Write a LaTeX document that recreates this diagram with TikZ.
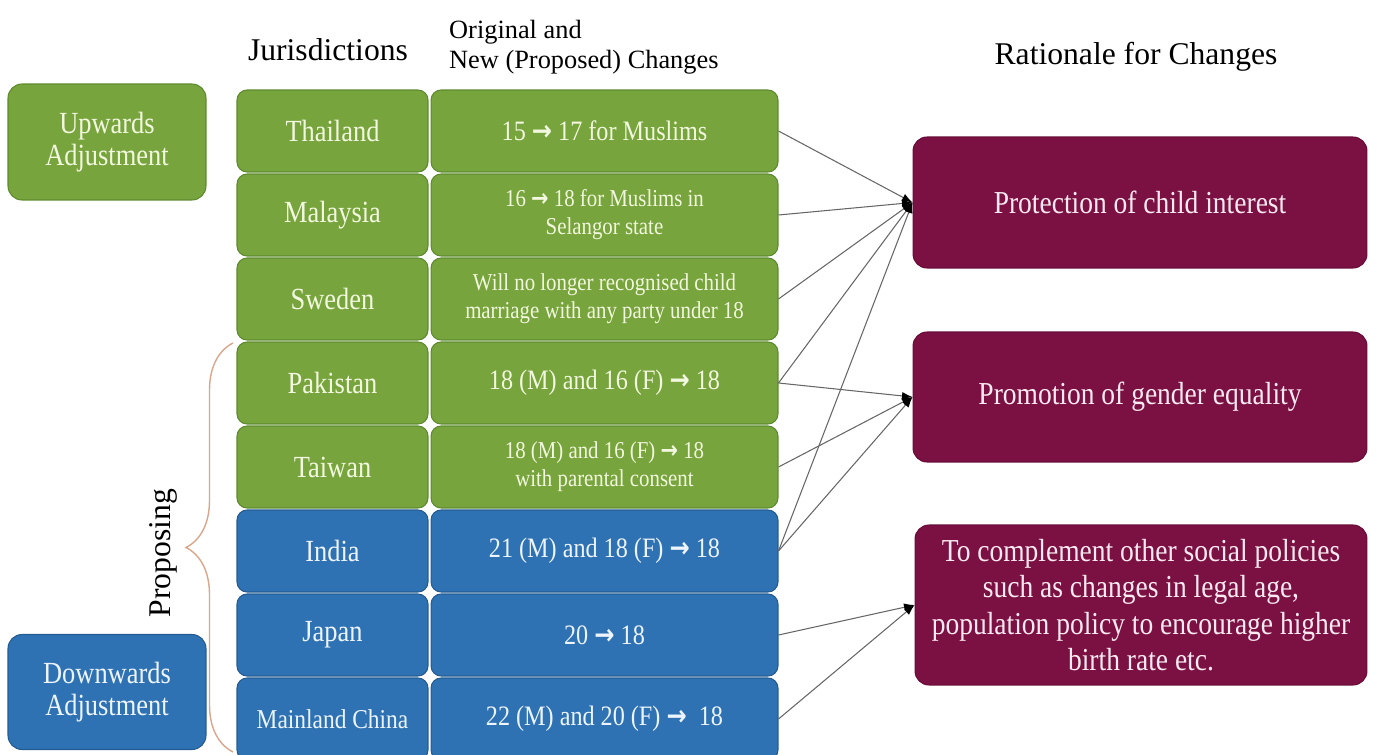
\documentclass[tikz,border=0pt]{standalone}
\usepackage{fontspec}
\setmainfont{Liberation Serif}
\newfontfamily\boxfont[FakeStretch=0.86]{Liberation Serif}
\newfontfamily\arrowfont[FakeStretch=0.86]{DejaVu Sans}
\usetikzlibrary{positioning, arrows.meta, calc, decorations.pathreplacing}
\definecolor{leaf}{HTML}{77A43C}
\definecolor{leafline}{HTML}{5E8A2E}
\definecolor{leaftext}{HTML}{F2F7DF}
\definecolor{sea}{HTML}{2E72B4}
\definecolor{sealine}{HTML}{245B90}
\definecolor{seatext}{HTML}{EEF4FB}
\definecolor{wine}{HTML}{7B1042}
\definecolor{wineline}{HTML}{6A0C38}
\definecolor{winetext}{HTML}{FBEAF1}
\definecolor{bracecol}{HTML}{D9A68C}
\newcommand{\ito}{{\arrowfont\bfseries →}}
\newcommand{\jsmall}{\fontsize{15.5}{18}\selectfont}

\begin{document}
\begin{tikzpicture}[x=0.02cm, y=-0.02cm,
 cell/.style={draw, rounded corners=0.2cm, line width=0.6pt, align=center,
 inner sep=2pt, minimum height=1.64cm, font=\boxfont\fontsize{17.5}{18.5}\selectfont},
 upcell/.style={fill=leaf, draw=leafline, text=leaftext},
 downcell/.style={fill=sea, draw=sealine, text=seatext},
 chgtext/.style={font=\boxfont\fontsize{16}{19}\selectfont},
 chgsmall/.style={font=\boxfont\fontsize{13.8}{16}\selectfont},
 head/.style={font=\fontsize{18}{21}\selectfont, text=black},
 reason/.style={draw=wineline, fill=wine, text=winetext, rounded corners=0.28cm,
 align=center, line width=0.6pt, font=\boxfont\fontsize{18.2}{20.8}\selectfont},
 link/.style={-{Latex[length=6pt, width=4.5pt, color=black]}, draw=black!60, line width=0.6pt}]
 \useasboundingbox (0,0) rectangle (1376,754);
 \clip (0,0) rectangle (1376,754);
 \node[head] (hjur) at (328,50) {Jurisdictions};
 \node[head, font=\fontsize{15}{17}\selectfont, align=left, anchor=west] (hchg) at (443,47)
 {Original and\\New (Proposed) Changes};
 \node[head] (hrat) at (1136,57) {Rationale for Changes};
 \foreach \jname/\change/\kind/\size [count=\i] in {
 Thailand/{15 \ito\ 17 for Muslims}/upcell/chgtext,
 Malaysia/{16 \ito\ 18 for Muslims in\\Selangor state}/upcell/chgsmall,
 Sweden/{Will no longer recognised child\\marriage with any party under 18}/upcell/chgsmall,
 Pakistan/{18 (M) and 16 (F) \ito\ 18}/upcell/chgtext,
 Taiwan/{18 (M) and 16 (F) \ito\ 18\\with parental consent}/upcell/chgsmall,
 India/{21 (M) and 18 (F) \ito\ 18}/downcell/chgtext,
 Japan/{20 \ito\ 18}/downcell/chgtext,
 {\jsmall Mainland China}/{22 (M) and 20 (F) \ito\ \ 18}/downcell/chgtext} {
 \node[cell, \kind, minimum width=3.82cm] (j\i) at (332.5,{131+84*(\i-1)}) {\jname};
 \node[cell, \kind, \size, minimum width=6.94cm] (c\i) at (604.5,{131+84*(\i-1)}) {\change};
 }
 \node[cell, upcell, rounded corners=0.28cm, minimum width=3.96cm, minimum height=2.32cm]
 (up) at (107,142) {Upwards\\Adjustment};
 \node[cell, downcell, rounded corners=0.28cm, minimum width=3.96cm, minimum height=2.3cm]
 (down) at (107,692) {Downwards\\Adjustment};
 \draw[bracecol, line width=0.8pt, decorate, decoration={brace, amplitude=0.94cm}]
 (233,752) -- (233,343);
 \node[head, rotate=90] (prop) at (163,553) {Proposing};
 \node[reason, minimum width=9.08cm, minimum height=2.62cm] (prot) at (1140,202.5)
 {Protection of child interest};
 \node[reason, minimum width=9.08cm, minimum height=2.6cm] (gend) at (1140,397)
 {Promotion of gender equality};
 \node[reason, minimum width=9.04cm, minimum height=3.2cm] (comp) at (1141,605)
 {To complement other social policies\\such as changes in legal age,\\population policy to encourage higher\\birth rate etc.};
 \foreach \s in {1,2,3,4,6} \draw[link] (c\s.east) -- (prot.west);
 \foreach \s in {4,5,6} \draw[link] (c\s.east) -- (gend.west);
 \foreach \s in {7,8} \draw[link] (c\s.east) -- (comp.west);
\end{tikzpicture}
\end{document}
